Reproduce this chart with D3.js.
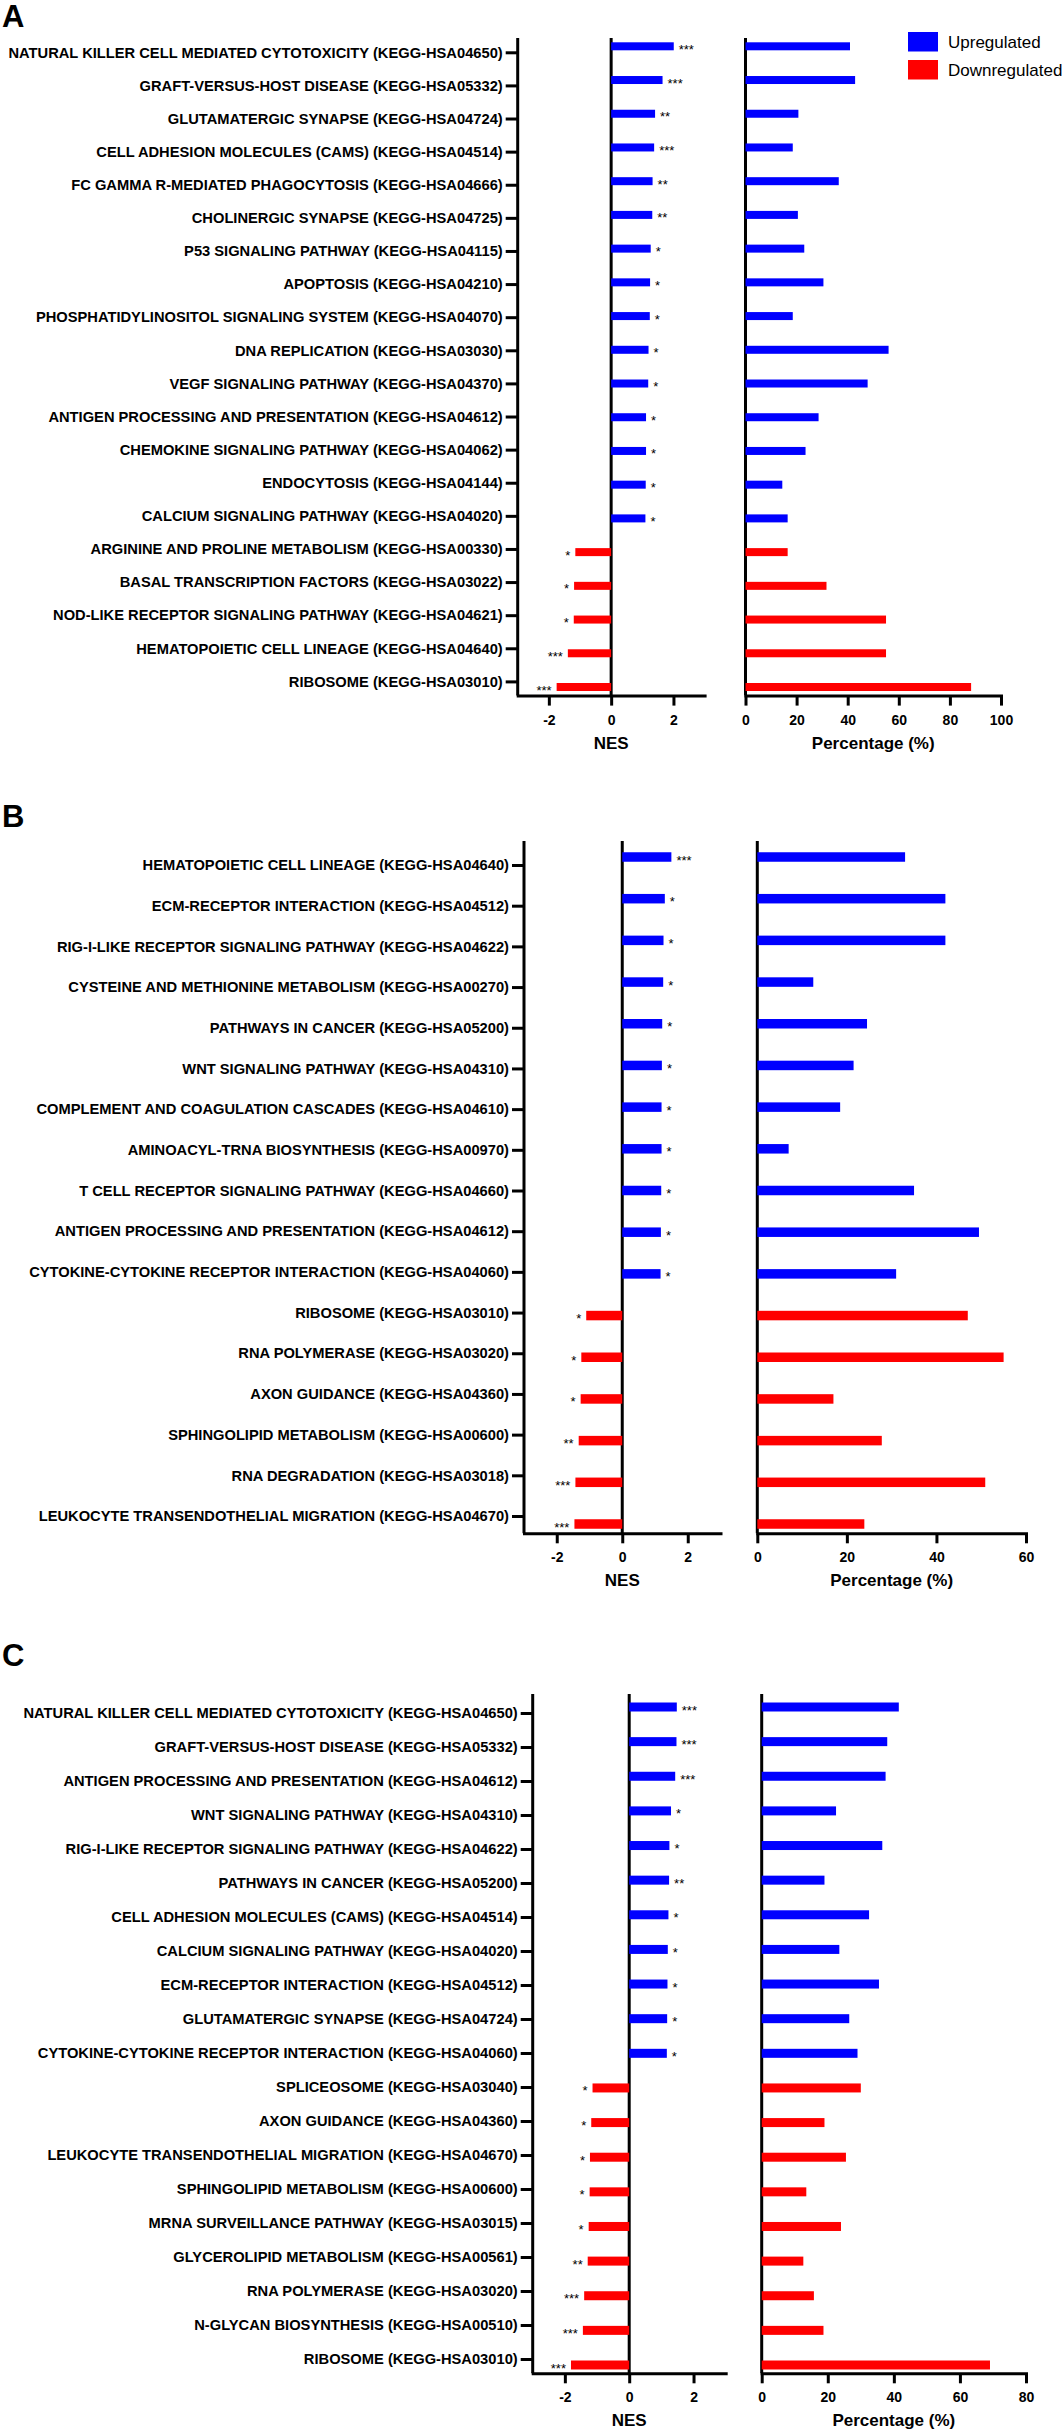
<!DOCTYPE html>
<html>
<head>
<meta charset="utf-8">
<script src="https://cdnjs.cloudflare.com/ajax/libs/d3/7.8.5/d3.min.js"></script>
<style>
  body { margin: 0; background: #fff; }
  svg { display: block; font-family: "Liberation Sans", Arial, sans-serif; }
</style>
</head>
<body>
<div id="chart"></div>
<script>
'use strict';

// ---- Panel A data ----
const aTerms = [
  "NATURAL KILLER CELL MEDIATED CYTOTOXICITY (KEGG-HSA04650)",
  "GRAFT-VERSUS-HOST DISEASE (KEGG-HSA05332)",
  "GLUTAMATERGIC SYNAPSE (KEGG-HSA04724)",
  "CELL ADHESION MOLECULES (CAMS) (KEGG-HSA04514)",
  "FC GAMMA R-MEDIATED PHAGOCYTOSIS (KEGG-HSA04666)",
  "CHOLINERGIC SYNAPSE (KEGG-HSA04725)",
  "P53 SIGNALING PATHWAY (KEGG-HSA04115)",
  "APOPTOSIS (KEGG-HSA04210)",
  "PHOSPHATIDYLINOSITOL SIGNALING SYSTEM (KEGG-HSA04070)",
  "DNA REPLICATION (KEGG-HSA03030)",
  "VEGF SIGNALING PATHWAY (KEGG-HSA04370)",
  "ANTIGEN PROCESSING AND PRESENTATION (KEGG-HSA04612)",
  "CHEMOKINE SIGNALING PATHWAY (KEGG-HSA04062)",
  "ENDOCYTOSIS (KEGG-HSA04144)",
  "CALCIUM SIGNALING PATHWAY (KEGG-HSA04020)",
  "ARGININE AND PROLINE METABOLISM (KEGG-HSA00330)",
  "BASAL TRANSCRIPTION FACTORS (KEGG-HSA03022)",
  "NOD-LIKE RECEPTOR SIGNALING PATHWAY (KEGG-HSA04621)",
  "HEMATOPOIETIC CELL LINEAGE (KEGG-HSA04640)",
  "RIBOSOME (KEGG-HSA03010)"
];
const aNES = [2.01, 1.65, 1.41, 1.38, 1.33, 1.32, 1.27, 1.25, 1.24, 1.20,
              1.19, 1.12, 1.12, 1.11, 1.10, -1.15, -1.19, -1.20, -1.39, -1.75];
const aPct = [40.9, 42.9, 20.7, 18.5, 36.5, 20.5, 23, 30.5, 18.5, 56.0,
              47.8, 28.6, 23.5, 14.4, 16.5, 16.5, 31.7, 55.0, 55.0, 88.3];
const aSig = ["***", "***", "**", "***", "**", "**", "*", "*", "*", "*",
              "*", "*", "*", "*", "*", "*", "*", "*", "***", "***"];

// ---- Panel B data ----
const bTerms = [
  "HEMATOPOIETIC CELL LINEAGE (KEGG-HSA04640)",
  "ECM-RECEPTOR INTERACTION (KEGG-HSA04512)",
  "RIG-I-LIKE RECEPTOR SIGNALING PATHWAY (KEGG-HSA04622)",
  "CYSTEINE AND METHIONINE METABOLISM (KEGG-HSA00270)",
  "PATHWAYS IN CANCER (KEGG-HSA05200)",
  "WNT SIGNALING PATHWAY (KEGG-HSA04310)",
  "COMPLEMENT AND COAGULATION CASCADES (KEGG-HSA04610)",
  "AMINOACYL-TRNA BIOSYNTHESIS (KEGG-HSA00970)",
  "T CELL RECEPTOR SIGNALING PATHWAY (KEGG-HSA04660)",
  "ANTIGEN PROCESSING AND PRESENTATION (KEGG-HSA04612)",
  "CYTOKINE-CYTOKINE RECEPTOR INTERACTION (KEGG-HSA04060)",
  "RIBOSOME (KEGG-HSA03010)",
  "RNA POLYMERASE (KEGG-HSA03020)",
  "AXON GUIDANCE (KEGG-HSA04360)",
  "SPHINGOLIPID METABOLISM (KEGG-HSA00600)",
  "RNA DEGRADATION (KEGG-HSA03018)",
  "LEUKOCYTE TRANSENDOTHELIAL MIGRATION (KEGG-HSA04670)"
];
const bNES = [1.50, 1.30, 1.26, 1.25, 1.22, 1.21, 1.20, 1.20, 1.19, 1.18,
              1.17, -1.10, -1.25, -1.27, -1.33, -1.43, -1.46];
const bPct = [33, 42, 42, 12.5, 24.5, 21.5, 18.5, 7, 35, 49.5,
              31, 47, 55, 17, 27.8, 50.9, 23.9];
const bSig = ["***", "*", "*", "*", "*", "*", "*", "*", "*", "*",
              "*", "*", "*", "*", "**", "***", "***"];

// ---- Panel C data ----
const cTerms = [
  "NATURAL KILLER CELL MEDIATED CYTOTOXICITY (KEGG-HSA04650)",
  "GRAFT-VERSUS-HOST DISEASE (KEGG-HSA05332)",
  "ANTIGEN PROCESSING AND PRESENTATION (KEGG-HSA04612)",
  "WNT SIGNALING PATHWAY (KEGG-HSA04310)",
  "RIG-I-LIKE RECEPTOR SIGNALING PATHWAY (KEGG-HSA04622)",
  "PATHWAYS IN CANCER (KEGG-HSA05200)",
  "CELL ADHESION MOLECULES (CAMS) (KEGG-HSA04514)",
  "CALCIUM SIGNALING PATHWAY (KEGG-HSA04020)",
  "ECM-RECEPTOR INTERACTION (KEGG-HSA04512)",
  "GLUTAMATERGIC SYNAPSE (KEGG-HSA04724)",
  "CYTOKINE-CYTOKINE RECEPTOR INTERACTION (KEGG-HSA04060)",
  "SPLICEOSOME (KEGG-HSA03040)",
  "AXON GUIDANCE (KEGG-HSA04360)",
  "LEUKOCYTE TRANSENDOTHELIAL MIGRATION (KEGG-HSA04670)",
  "SPHINGOLIPID METABOLISM (KEGG-HSA00600)",
  "MRNA SURVEILLANCE PATHWAY (KEGG-HSA03015)",
  "GLYCEROLIPID METABOLISM (KEGG-HSA00561)",
  "RNA POLYMERASE (KEGG-HSA03020)",
  "N-GLYCAN BIOSYNTHESIS (KEGG-HSA00510)",
  "RIBOSOME (KEGG-HSA03010)"
];
const cNES = [1.48, 1.47, 1.43, 1.30, 1.25, 1.24, 1.22, 1.20, 1.19, 1.18,
              1.17, -1.14, -1.18, -1.22, -1.23, -1.26, -1.29, -1.40, -1.44, -1.81];
const cPct = [41.5, 38, 37.5, 22.5, 36.5, 19, 32.5, 23.5, 35.5, 26.5,
              29, 30, 19, 25.5, 13.5, 24, 12.6, 15.8, 18.7, 69.1];
const cSig = ["***", "***", "***", "*", "*", "**", "*", "*", "*", "*",
              "*", "*", "*", "*", "*", "*", "**", "***", "***", "***"];

const nesTicks = [-2, 0, 2];
const legendItems = ["Upregulated", "Downregulated"];

const UP = "#0000ff", DOWN = "#ff0000";

const svg = d3.select("#chart").append("svg")
  .attr("width", 1063)
  .attr("height", 2430);

svg.append("rect").attr("width", 1063).attr("height", 2430).attr("fill", "#fff");

// layout of each panel (pixel positions)
const panels = [
  {letter: "A", letterY: 27, terms: aTerms, nes: aNES, pct: aPct, sig: aSig,
   top: 38, bottom: 695.6, labelY: [52.3, 681.4], barY: [46.3, 687],
   nesX: [517.7, 704.6], pctX: [745.5, 1001], pctMax: 100, barH: 8},
  {letter: "B", letterY: 827, terms: bTerms, nes: bNES, pct: bPct, sig: bSig,
   top: 841, bottom: 1533.3, labelY: [865, 1516], barY: [857, 1524],
   nesX: [524, 720.5], pctX: [757.3, 1026], pctMax: 60, barH: 9.5},
  {letter: "C", letterY: 1666, terms: cTerms, nes: cNES, pct: cPct, sig: cSig,
   top: 1694, bottom: 2373.3, labelY: [1713, 2359], barY: [1707, 2365],
   nesX: [532.7, 725.7], pctX: [761.7, 1026], pctMax: 80, barH: 9}
];

function styleAxis(g) {
  g.selectAll("line").attr("stroke", "#000").attr("stroke-width", 3);
  g.selectAll("path").attr("stroke", "#000").attr("stroke-width", 3).attr("stroke-linecap", "square");
  g.selectAll("text").attr("fill", "#000").style("font-weight", "bold");
}

panels.forEach(p => {
  const g = svg.append("g");
  const rows = p.terms.map((t, i) => ({term: t, nes: p.nes[i], pct: p.pct[i], sig: p.sig[i]}));

  const yLabel = d3.scalePoint().domain(p.terms).range(p.labelY);
  const yBar = d3.scalePoint().domain(p.terms).range(p.barY);
  const x = d3.scaleLinear().domain([-3, 3]).range(p.nesX);
  const xp = d3.scaleLinear().domain([0, p.pctMax]).range(p.pctX);

  // panel letter
  g.append("text")
    .attr("x", 2).attr("y", p.letterY)
    .style("font-size", "31px").style("font-weight", "bold")
    .text(p.letter);

  // term labels axis
  const yAxis = g.append("g")
    .attr("transform", `translate(${x.range()[0]},0)`)
    .call(d3.axisLeft(yLabel).tickSize(12).tickPadding(3).tickSizeOuter(0));
  yAxis.select(".domain").remove();
  yAxis.selectAll("text").style("font-size", "14.7px");
  styleAxis(yAxis);

  // vertical lines: label axis, NES zero, percentage zero
  [x.range()[0], x(0), xp(0)].forEach(vx => {
    g.append("line")
      .attr("x1", vx).attr("x2", vx)
      .attr("y1", p.top).attr("y2", p.bottom)
      .attr("stroke", "#000").attr("stroke-width", 3);
  });

  // NES axis
  const xAxis = g.append("g")
    .attr("transform", `translate(0,${p.bottom})`)
    .call(d3.axisBottom(x).tickValues(nesTicks).tickFormat(d => String(d))
      .tickSize(10).tickPadding(9).tickSizeOuter(0));
  xAxis.selectAll("text").style("font-size", "14px");
  styleAxis(xAxis);

  // percentage axis
  const pAxis = g.append("g")
    .attr("transform", `translate(0,${p.bottom})`)
    .call(d3.axisBottom(xp).tickValues(d3.range(0, p.pctMax + 1, 20))
      .tickSize(10).tickPadding(9).tickSizeOuter(0));
  pAxis.selectAll("text").style("font-size", "14px");
  styleAxis(pAxis);

  // axis titles
  g.append("text")
    .attr("x", x(0)).attr("y", p.bottom + 53)
    .attr("text-anchor", "middle")
    .style("font-size", "17px").style("font-weight", "bold")
    .text("NES");
  g.append("text")
    .attr("x", (xp.range()[0] + xp.range()[1]) / 2).attr("y", p.bottom + 53)
    .attr("text-anchor", "middle")
    .style("font-size", "17px").style("font-weight", "bold")
    .text("Percentage (%)");

  // NES bars
  g.selectAll(".nes-bar")
    .data(rows)
    .enter()
    .append("rect")
    .attr("class", "nes-bar")
    .attr("x", d => x(Math.min(0, d.nes)))
    .attr("y", d => yBar(d.term) - p.barH / 2)
    .attr("width", d => Math.abs(x(d.nes) - x(0)))
    .attr("height", p.barH)
    .attr("fill", d => d.nes > 0 ? UP : DOWN);

  // significance stars
  g.selectAll(".sig")
    .data(rows)
    .enter()
    .append("text")
    .attr("class", "sig")
    .attr("x", d => d.nes > 0 ? x(d.nes) + 5 : x(d.nes) - 5)
    .attr("y", d => yBar(d.term) + 7.5)
    .attr("text-anchor", d => d.nes > 0 ? "start" : "end")
    .style("font-size", "13px")
    .attr("fill", "#000")
    .text(d => d.sig);

  // percentage bars
  g.selectAll(".pct-bar")
    .data(rows)
    .enter()
    .append("rect")
    .attr("class", "pct-bar")
    .attr("x", xp(0))
    .attr("y", d => yBar(d.term) - p.barH / 2)
    .attr("width", d => xp(d.pct) - xp(0))
    .attr("height", p.barH)
    .attr("fill", d => d.nes > 0 ? UP : DOWN);
});

// legend (panel A only)
const legend = svg.append("g")
  .selectAll("g")
  .data(legendItems)
  .enter()
  .append("g")
  .attr("transform", (d, i) => `translate(908,${32 + i * 28})`);
legend.append("rect")
  .attr("width", 30).attr("height", 19.5)
  .attr("fill", (d, i) => i === 0 ? UP : DOWN);
legend.append("text")
  .attr("x", 40).attr("y", 10)
  .attr("dominant-baseline", "central")
  .style("font-size", "17px")
  .text(d => d);
</script>
</body>
</html>
